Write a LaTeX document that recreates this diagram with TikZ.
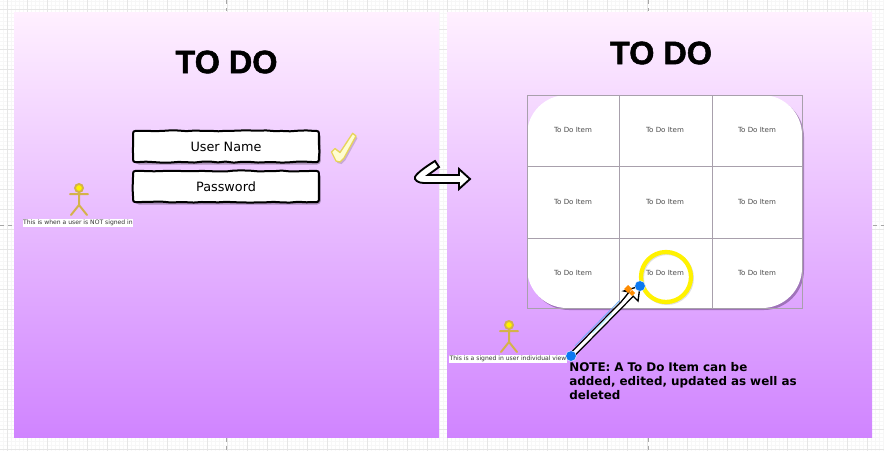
\documentclass[tikz,border=0pt]{standalone}
\usepackage{fontspec}
\setmainfont{DejaVu Sans}
\newfontfamily\titlefont[BoldFeatures={FakeBold=1.6}]{Liberation Sans}
\usetikzlibrary{arrows.meta,decorations.pathmorphing,calc}
\definecolor{gold}{HTML}{D4B24A}
\definecolor{panelTop}{HTML}{FFF0FF}
\definecolor{panelBot}{HTML}{D084FF}
\definecolor{minorline}{HTML}{F7F7F7}
\definecolor{majorline}{HTML}{E6E6E6}
\definecolor{cellline}{HTML}{A8A0AC}
\definecolor{handleblue}{HTML}{0A78F0}
\tikzset{
  panel/.style={minimum width=318.75pt,minimum height=318.75pt,inner sep=0pt,top color=panelTop,bottom color=panelBot,middle color=panelTop!50!panelBot},
  titletext/.style={font=\titlefont\bfseries\fontsize{24.3pt}{26pt}\selectfont,text=black,inner sep=0pt},
  fieldbox/.style={fill=white,rounded corners=3pt,minimum width=139pt,minimum height=23pt,inner sep=0pt,font=\fontsize{9.6pt}{11pt}\selectfont},
  itemtext/.style={font=\fontsize{5.3pt}{6pt}\selectfont,text=black!70,inner sep=0pt},
  caption/.style={fill=white,font=\fontsize{4.55pt}{6pt}\selectfont,text=black!80,inner ysep=0.8pt,inner xsep=0.4pt},
  note/.style={font=\bfseries\fontsize{8.95pt}{10.5pt}\selectfont,align=left,anchor=north west,inner sep=0pt,text width=180pt},
  handle/.style={circle,fill=handleblue,draw=white,line width=0.3pt,minimum size=8pt,inner sep=0pt},
  diam/.style={fill=orange!90!yellow},
  wob/.style={decoration={random steps,segment length=6pt,amplitude=0.4pt}},
  stick/.pic={
    \draw[gold,line width=1.5pt,line cap=round] (-9,6)--(9,6) (0,4)--(0,17) (0,17)--(-8,27) (0,17)--(8,27);
    \draw[gold,fill=yellow,line width=1.4pt] (0,0) circle (4);
  }
}
\newcommand{\wobframe}[1]{%
  \fill[black,opacity=0.28,rounded corners=3pt] ($(#1.north west)+(2,2)$) rectangle ($(#1.south east)+(2,2.5)$);
  \node[fieldbox,at=(#1.center)] {};
  \draw[black,line width=1.5pt,line join=round]
    ($(#1.north west)+(5,0)$) decorate[wob]{-- ($(#1.north east)+(-5,0)$)}
    .. controls (#1.north east) .. ($(#1.north east)+(0,5)$) decorate[wob]{-- ($(#1.south east)+(0,-5)$)}
    .. controls (#1.south east) .. ($(#1.south east)+(-5,0)$) decorate[wob]{-- ($(#1.south west)+(5,0)$)}
    .. controls (#1.south west) .. ($(#1.south west)+(0,-5)$) decorate[wob]{-- ($(#1.north west)+(0,5)$)}
    .. controls (#1.north west) .. cycle;
}
\begin{document}
\begin{tikzpicture}[x=0.75pt,y=-0.75pt]
\useasboundingbox (0,0) rectangle (884,451);
\begin{scope}
\clip (0,0) rectangle (884,451);
\fill[white] (0,0) rectangle (884,451);
\foreach \v in {-1,3,...,883} \draw[minorline,line width=0.3pt] (\v,0)--(\v,451);
\foreach \v in {1,5,...,449} \draw[minorline,line width=0.3pt] (0,\v)--(884,\v);
\foreach \v in {7,27,...,883} \draw[majorline,line width=0.5pt] (\v,0)--(\v,451);
\foreach \v in {9,29,...,449} \draw[majorline,line width=0.5pt] (0,\v)--(884,\v);
\foreach \v in {226,648} {
  \draw[gray!70,line width=0.4pt,dashed] (\v,0)--(\v,11);
  \draw[gray!70,line width=0.4pt,dashed] (\v,438)--(\v,451);
}
\draw[gray!70,line width=0.4pt,dashed] (0,225)--(13,225);
\draw[gray!70,line width=0.4pt,dashed] (873,225)--(884,225);
\end{scope}

\node[panel] (left) at (226.5,224.5) {};
\node[panel] (right) at (659.5,224.5) {};

\node[titletext] (titleL) at (226.5,62) {TO DO};
\node[titletext] (titleR) at (661,53) {TO DO};

\pgfmathsetseed{7}
\coordinate (userC) at (226,146.5);
\coordinate (passC) at (226,186.5);
\path node[fieldbox,fill=none] (user) at (userC) {};
\path node[fieldbox,fill=none] (pass) at (passC) {};
\wobframe{user}
\wobframe{pass}
\node[inner sep=0pt,font=\fontsize{9.6pt}{11pt}\selectfont] (userT) at (userC) {User Name};
\node[inner sep=0pt,font=\fontsize{9.6pt}{11pt}\selectfont] (passT) at (passC) {Password};

% check mark
\fill[black,opacity=0.16] (333,154)--(336.5,150.5)--(341.5,154.5)--(354.2,135.3)--(357.5,138)--(345.5,160)--(341.5,164)--(337.5,163)--cycle;
\draw[draw=gold!70!yellow!80!white,fill=yellow!18,line width=1pt,line join=round] (331.5,152)--(335,148.5)--(340,152.5)--(352.7,133.3)--(356,136)--(344,158)--(340,162)--(336,161)--cycle;

\pic at (79,188) {stick};
\node[caption] (capL) at (78,222.5) {This is when a user is NOT signed in};

% double arrow
\draw[black,fill=white,line width=1.4pt,line join=miter]
  (435,161)--(439,167)--(428,175)--(459,175)--(459,169)--(470,179)--(459,189)--(459,183)--(424,183)
  .. controls (418,183) and (414,180) .. (415,177) .. controls (416,174) and (425,167) .. (435,161)--cycle;

% grid of items
\fill[black!60!panelBot,opacity=0.45,rounded corners=30pt] (529,97) rectangle (804,310);
\fill[white,rounded corners=30pt] (527,95) rectangle (802,308);
\draw[cellline,line width=0.6pt] (527,95) rectangle (802,308);
\draw[cellline,line width=0.6pt] (619.5,95)--(619.5,308) (712,95)--(712,308) (527,166)--(802,166) (527,238)--(802,238);
\foreach \c/\cx in {a/573,b/665,c/757}
  \foreach \r/\ry in {1/130,2/202,3/273}
    \node[itemtext] (item\c\r) at (\cx,\ry) {To Do Item};

% highlight circle
\draw[black,opacity=0.12,line width=3pt] (667,278) circle (25);
\draw[yellow,line width=3.2pt] (itemb3.center)++(1,4) circle (25);

\pic at (509,325) {stick};
\node[caption] (capR) at (508,359) {This is a signed in user individual view};

% note arrow
\coordinate (arrowA) at (571,356);
\coordinate (arrowB) at (640,286);
\draw[handleblue!60!white,line width=0.6pt] ($(arrowA)!0.1!(arrowB)+(-3,-3)$)--($(arrowA)!0.75!(arrowB)+(-3,-3)$);
\draw[black,line width=4.5pt,shorten >=7pt] (arrowA)--(arrowB);
\draw[black,line width=1pt,fill=white,line join=miter]
  (arrowB)--(638,301)--(633,296)--(624,303)--(622,301)--(629,292)--(624,291)--cycle;
\draw[white,line width=2.4pt,shorten >=8pt,shorten <=1pt] (arrowA)--(arrowB);
\draw[blue!20!cyan!25,line width=1pt] ($(arrowA)!0.32!(arrowB)+(-0.6,-0.6)$)--($(arrowA)!0.6!(arrowB)+(-0.6,-0.6)$);

\fill[diam] (628,285)--(632,289)--(628,293)--(624,289)--cycle;
\fill[diam] (632,290)--(635,293)--(632,296)--(629,293)--cycle;
\node[handle] (h1) at (arrowA) {};
\node[handle] (h2) at (arrowB) {};

\node[note] (noteT) at (569,362) {NOTE: A To Do Item can be\\added, edited, updated as well as\\deleted};
\end{tikzpicture}
\end{document}
